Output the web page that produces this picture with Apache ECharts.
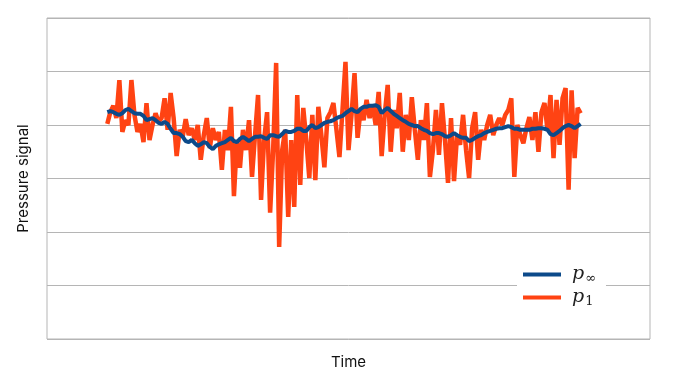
<!DOCTYPE html>
<html>
<head>
<meta charset="utf-8">
<script src="https://cdn.jsdelivr.net/npm/echarts@6/dist/echarts.min.js"></script>
<style>html,body{margin:0;padding:0;background:#fff;}#c{width:688px;height:384px;}</style>
</head>
<body>
<div id="c"></div>
<script>
// Time sampling
const tStart = 10, tStep = 0.5;
// p1: raw pressure signal
const p1 = [
4.02,4.24,4.36,4.13,4.84,3.87,4.09,4.00,4.84,4.19,
3.87,4.02,3.68,4.41,3.72,4.00,4.22,4.06,4.13,4.50,
3.91,4.60,4.13,3.42,3.91,3.78,4.11,3.81,3.94,3.72,
4.00,3.35,3.81,4.13,3.57,3.94,3.72,3.87,3.16,3.91,
3.53,4.34,2.67,3.72,3.20,3.91,3.53,4.09,3.03,3.81,
4.56,2.60,3.72,4.24,2.36,3.53,5.16,1.72,3.53,3.91,
2.28,3.72,2.47,4.56,2.88,4.32,3.72,3.01,4.19,2.97,
4.34,3.81,3.21,4.13,4.24,4.41,3.91,3.40,4.28,5.18,
3.53,4.19,4.97,3.76,4.28,4.09,4.47,4.13,4.37,4.00,
4.62,3.42,4.19,4.75,3.50,4.28,3.94,4.60,3.50,4.19,
3.72,4.52,3.91,3.35,4.09,3.72,4.41,3.03,3.53,4.28,
3.44,4.41,3.72,2.92,4.13,2.95,3.81,3.63,4.19,3.53,
3.01,3.94,4.24,3.35,3.91,3.72,4.00,4.19,3.81,4.00,
4.13,4.00,4.19,4.28,4.50,3.03,4.00,3.81,3.66,3.94,
4.15,3.72,4.24,3.50,4.24,4.41,3.91,4.56,3.38,4.47,
3.63,4.50,4.69,2.79,4.65,3.38,4.32,4.22
];
// p_inf: smoothed signal
const pInf = [
4.24,4.26,4.24,4.21,4.19,4.22,4.28,4.30,4.26,4.22,
4.21,4.21,4.17,4.09,4.11,4.13,4.09,4.04,4.02,4.06,
4.02,3.93,3.85,3.85,3.83,3.78,3.70,3.68,3.72,3.66,
3.61,3.64,3.68,3.66,3.59,3.55,3.61,3.64,3.66,3.68,
3.72,3.76,3.70,3.68,3.74,3.78,3.74,3.70,3.74,3.78,
3.78,3.79,3.76,3.74,3.81,3.81,3.79,3.78,3.83,3.89,
3.87,3.87,3.89,3.93,3.93,3.89,3.89,3.96,4.00,3.94,
3.96,4.00,4.04,4.06,4.07,4.09,4.13,4.15,4.17,4.22,
4.26,4.30,4.26,4.24,4.30,4.34,4.34,4.36,4.36,4.37,
4.34,4.22,4.28,4.32,4.26,4.21,4.17,4.13,4.09,4.06,
4.02,4.00,3.98,3.98,3.94,3.91,3.89,3.85,3.83,3.85,
3.85,3.83,3.79,3.78,3.81,3.85,3.81,3.78,3.76,3.76,
3.70,3.72,3.76,3.79,3.81,3.85,3.87,3.89,3.91,3.93,
3.94,3.94,3.96,3.98,3.96,3.93,3.93,3.91,3.91,3.91,
3.91,3.93,3.93,3.94,3.94,3.93,3.91,3.83,3.81,3.85,
3.89,3.94,3.98,4.00,3.98,3.94,3.98,4.02
];
const seriesNames = ['p∞', 'p1'];

const toPairs = arr => arr.map((v, i) => [tStart + i * tStep, v]);

const chart = echarts.init(document.getElementById('c'), null, {renderer: 'canvas'});
const legendRich = {
  p: {fontFamily: 'DejaVu Serif', fontStyle: 'italic', fontSize: 19, color: '#222', padding: [0, 0, 0, 6]},
  s: {fontFamily: 'DejaVu Serif', fontSize: 13, color: '#222', verticalAlign: 'bottom', padding: [8, 0, 0, 1]}
};
chart.setOption({
  animation: false,
  backgroundColor: '#fff',
  grid: {left: 47, right: 38, top: 18, bottom: 45, show: true, borderColor: '#b5b5b5', borderWidth: 1},
  xAxis: {
    type: 'value', min: 0, max: 100,
    axisLabel: {show: false}, axisTick: {show: false}, axisLine: {show: false}, splitLine: {show: false},
    name: 'Time', nameLocation: 'middle', nameGap: 16,
    nameTextStyle: {fontFamily: 'Inter', fontSize: 15, color: '#111'}
  },
  yAxis: {
    type: 'value', min: 0, max: 6, interval: 1,
    axisLabel: {show: false}, axisTick: {show: false}, axisLine: {show: false},
    splitLine: {show: true, lineStyle: {color: '#b5b5b5', width: 1}},
    name: 'Pressure signal', nameLocation: 'middle', nameGap: 16,
    nameTextStyle: {fontFamily: 'Inter', fontSize: 15, color: '#111'}
  },
  legend: {
    data: seriesNames,
    orient: 'vertical', left: 517, top: 261,
    backgroundColor: '#fff', padding: [4, 10, 4, 6], itemGap: 3,
    icon: 'rect', itemWidth: 38, itemHeight: 4,
    formatter: function (name) {
      const sub = name.slice(1);
      return '{p|p}{s|' + sub + '}';
    },
    textStyle: {rich: legendRich}
  },
  series: [
    {
      name: seriesNames[1], type: 'line', data: toPairs(p1), showSymbol: false,
      lineStyle: {color: '#ff4313', width: 4.5}, itemStyle: {color: '#ff4313'}, z: 2
    },
    {
      name: seriesNames[0], type: 'line', data: toPairs(pInf), showSymbol: false,
      lineStyle: {color: '#0c4a8a', width: 4}, itemStyle: {color: '#0c4a8a'}, z: 3
    }
  ]
});
</script>
</body>
</html>
